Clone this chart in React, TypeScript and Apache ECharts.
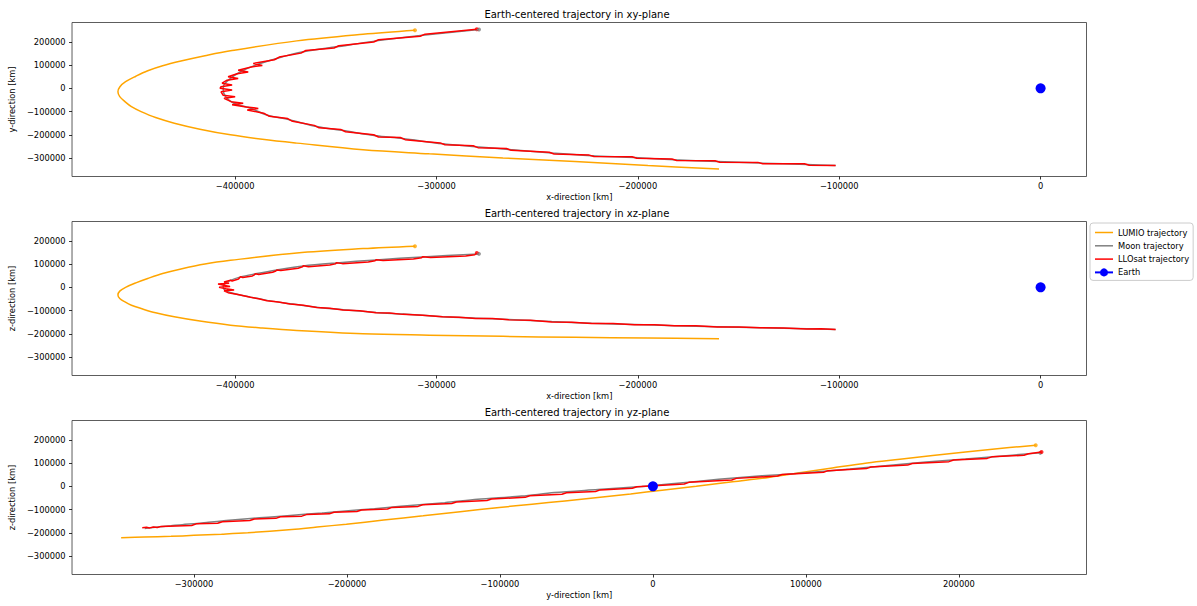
import React, { useEffect, useRef } from "react";
import * as echarts from "echarts";

// ---------------- data (km) ----------------
const lumioX = [-159700, -195000, -231300, -267000, -303600, -336500, -369400, -386500, -402300, -417500, -430200, -439500, -446700, -451500, -454700, -457300, -458200, -457300, -454400, -449300, -443400, -436000, -426900, -415000, -402300, -369400, -336500, -310700];
const lumioY = [-347600, -332500, -315000, -300000, -282000, -264800, -236000, -219500, -200400, -176000, -150200, -126000, -100400, -79000, -57500, -36000, -14600, 6000, 28300, 52000, 75500, 97000, 117200, 140000, 161400, 204300, 233000, 250200];
const lumioZ = [-221500, -218700, -215500, -211200, -206000, -200000, -186000, -175300, -163000, -145500, -127000, -109600, -91200, -77100, -63000, -48000, -33000, -16500, 0, 19300, 38000, 59100, 78900, 100400, 116200, 148000, 166700, 177100];

const moonX = [-101800, -116100, -139200, -160500, -181900, -201700, -223000, -242800, -264100, -280600, -297000, -316800, -330000, -346400, -359500, -372700, -384200, -392400, -400600, -404700, -405900, -405600, -402300, -397300, -389900, -379300, -366100, -349700, -330000, -306900, -278900];
const moonY = [-332200, -327900, -321900, -315000, -307700, -297900, -290600, -279000, -263000, -251500, -239000, -216300, -204700, -182000, -164800, -136100, -114600, -85800, -64400, -36000, -7300, 14200, 42900, 71200, 100000, 128800, 157100, 178500, 204300, 228800, 253200];
const moonZ = [-181500, -178600, -174000, -169700, -165000, -160000, -155000, -147500, -138700, -132800, -126300, -115000, -108000, -96300, -85700, -70300, -56200, -42200, -27000, -14000, -1000, 12000, 30000, 45000, 58000, 74500, 92000, 105000, 118000, 131000, 144000];

const llosatXY = [
  [-101800, -332200],
  [-114900, -330900], [-117300, -324900],
  [-138000, -324900], [-140400, -318900],
  [-159300, -318000], [-161700, -312000],
  [-180700, -310700], [-183100, -304700],
  [-200500, -300900], [-202900, -294900],
  [-221800, -293600], [-224200, -287600],
  [-241600, -282500], [-244000, -275500],
  [-262900, -267000], [-265300, -259000],
  [-279400, -255500], [-281800, -247500],
  [-295800, -243000], [-298200, -235000],
  [-315600, -221000], [-318000, -211600],
  [-328800, -209400], [-331200, -200000],
  [-345200, -187000], [-347600, -177000],
  [-358300, -170000], [-360700, -159600],
  [-371500, -142000], [-373900, -130200],
  [-383000, -120500], [-385400, -108700],
  [-394000, -93000], [-388500, -86500], [-394500, -80000],
  [-401500, -71000], [-396000, -64000], [-402000, -57500],
  [-405500, -43000], [-400000, -36500], [-406000, -29500],
  [-407000, -15000], [-401500, -7500], [-407500, 0],
  [-407000, 7000], [-401500, 14500], [-406500, 22000],
  [-404000, 35000], [-398500, 42500], [-403500, 50000],
  [-399000, 63000], [-393500, 70000], [-398500, 78000],
  [-392000, 92000], [-386500, 98500], [-391000, 107000],
  [-380500, 123000], [-378100, 134600],
  [-367300, 151500], [-364900, 162700],
  [-350900, 173500], [-348500, 183500],
  [-331200, 199300], [-328800, 209300],
  [-308100, 224300], [-305700, 233300],
  [-280000, 254000],
];

const llosatXZ = [
  [-101800, -181500], [-109000, -178500], [-116100, -180000], [-127600, -175000],
  [-139200, -174500], [-149800, -170500], [-160500, -171000], [-171200, -166000],
  [-181900, -165500], [-191800, -161000], [-201700, -161500], [-212300, -156000],
  [-223000, -155500], [-232900, -150000], [-242800, -149000], [-253400, -142000],
  [-264100, -139500], [-272300, -134500], [-280600, -134500], [-288800, -128500],
  [-297000, -127000], [-306900, -120000], [-316800, -116500], [-323400, -110500],
  [-330000, -109000], [-338200, -101000], [-346400, -98000], [-353000, -90000],
  [-359500, -87000], [-366100, -77500], [-372700, -72000], [-378500, -63000],
  [-384200, -58000], [-388300, -49000], [-392400, -43000],
  [-398000, -32000], [-403500, -23000], [-405500, -15000], [-400500, -11500],
  [-404500, -6000], [-408000, 0], [-402500, 3000], [-405500, 8500],
  [-408500, 14000], [-403000, 17000], [-405500, 23000], [-402300, 30500],
  [-401500, 27000], [-398300, 35500], [-397800, 41000], [-397300, 45500],
  [-396200, 42000], [-391400, 49000], [-390400, 54000], [-389900, 58500],
  [-388300, 55500], [-381400, 64700], [-379800, 70500], [-379300, 75000],
  [-377300, 72100], [-368700, 82000], [-366600, 88000], [-366100, 92500],
  [-363600, 88900], [-353000, 95900], [-350200, 101000], [-349700, 105500],
  [-346700, 102000], [-333900, 108900], [-330500, 114000], [-330000, 118500],
  [-326500, 115000], [-311500, 121900], [-307400, 127000], [-306900, 131500],
  [-302900, 128300], [-285500, 134500], [-281000, 140000], [-280000, 148000],
];

const llosatYZ = [
  [-333800, -178500],
  [-331000, -176500], [-329000, -179000], [-326500, -175000], [-324000, -177000], [-321500, -172500],
  [-301500, -169000], [-298500, -161700],
  [-284500, -159000], [-281500, -152300],
  [-263500, -147300], [-260500, -140600],
  [-246500, -137900], [-243500, -131200],
  [-229500, -128500], [-226500, -121800],
  [-211500, -118500], [-208500, -111800],
  [-193500, -108500], [-190500, -101800],
  [-173500, -97400], [-170500, -90700],
  [-153500, -86400], [-150500, -79700],
  [-131500, -74200], [-128500, -67500],
  [-108500, -61400], [-105500, -54700],
  [-83500, -47600], [-80500, -40900],
  [-59500, -34300], [-56500, -27600],
  [-37500, -22100], [-34500, -15400],
  [-13500, -8600], [-10500, -1900],
  [20500, 10300], [23500, 17000],
  [51500, 27500], [54500, 34200],
  [81500, 44100], [84500, 50800],
  [111500, 60800], [114500, 67500],
  [139500, 76300], [142500, 83000],
  [166500, 91300], [169500, 98000],
  [193500, 106300], [196500, 113000],
  [218500, 120200], [221500, 126900],
  [242500, 133500], [245500, 140200],
  [254000, 148000],
];

const earthPos = [0, 0];

const xRange = [-481000, 22800];
const sharedRange = [-379700, 283400];
const ticksX = [-400000, -300000, -200000, -100000, 0];
const ticksShared = [-300000, -200000, -100000, 0, 100000, 200000];

const titles = [
  "Earth-centered trajectory in xy-plane",
  "Earth-centered trajectory in xz-plane",
  "Earth-centered trajectory in yz-plane",
];
const xNames = ["x-direction [km]", "x-direction [km]", "y-direction [km]"];
const yNames = ["y-direction [km]", "z-direction [km]", "z-direction [km]"];
const legendNames = ["LUMIO trajectory", "Moon trajectory", "LLOsat trajectory", "Earth"];

// ---------------- layout / style ----------------
const FONT = "DejaVu Sans";
const GRID_LEFT = 67.5;
const GRID_WIDTH = 1019;
const GRID_TOPS = [22.5, 221.5, 420.5];
const GRID_HEIGHT = 154;
const C_LUMIO = "#FFA500";
const C_MOON = "#808080";
const C_LLO = "#FF0000";
const C_EARTH = "#0000FF";
const LINE_ICON = "path://M0,0H18V1.5H0Z";

const pairs = (a: number[], b: number[]) => a.map((v, i) => [v, b[i]]);
const fmt = (v: number) => (v < 0 ? "\u2212" + Math.abs(v) : String(v));

export default function App() {
  const ref = useRef<HTMLDivElement>(null);

  useEffect(() => {
    document.body.style.margin = "0";
    const chart = echarts.init(ref.current as HTMLDivElement, null, { renderer: "svg" });

    const panels = [
      { lumio: pairs(lumioX, lumioY), moon: pairs(moonX, moonY), llo: llosatXY, xr: xRange, xt: ticksX },
      { lumio: pairs(lumioX, lumioZ), moon: pairs(moonX, moonZ), llo: llosatXZ, xr: xRange, xt: ticksX },
      { lumio: pairs(lumioY, lumioZ), moon: pairs(moonY, moonZ), llo: llosatYZ, xr: sharedRange, xt: ticksShared },
    ];

    const labelStyle = { fontSize: 8.3, color: "#000", fontFamily: FONT };
    const tickStyle = { length: 3, lineStyle: { color: "#000", width: 0.8 } };

    const series: any[] = [];
    panels.forEach((p, i) => {
      const ax = { xAxisIndex: i, yAxisIndex: i, silent: true };
      series.push(
        { ...ax, type: "line", name: legendNames[0], data: p.lumio, symbol: "none", smooth: 0.35, lineStyle: { color: C_LUMIO, width: 1.5 }, itemStyle: { color: C_LUMIO } },
        { ...ax, type: "scatter", data: [p.lumio[p.lumio.length - 1]], symbolSize: 4, itemStyle: { color: C_LUMIO } },
        { ...ax, type: "line", name: legendNames[1], data: p.moon, symbol: "none", smooth: 0.3, lineStyle: { color: C_MOON, width: 1.5 }, itemStyle: { color: C_MOON } },
        { ...ax, type: "scatter", data: [p.moon[p.moon.length - 1]], symbolSize: 4, itemStyle: { color: C_MOON } },
        { ...ax, type: "line", name: legendNames[2], data: p.llo, symbol: "none", lineStyle: { color: C_LLO, width: 1.5 }, itemStyle: { color: C_LLO } },
        { ...ax, type: "scatter", data: [p.llo[p.llo.length - 1]], symbolSize: 4, itemStyle: { color: C_LLO } },
        { ...ax, type: "line", name: legendNames[3], data: [earthPos], symbol: "circle", symbolSize: 10, showSymbol: true, lineStyle: { color: C_EARTH, width: 1.5 }, itemStyle: { color: C_EARTH } }
      );
    });

    chart.setOption({
      animation: false,
      backgroundColor: "#fff",
      title: titles.map((t, i) => ({
        text: t,
        left: GRID_LEFT + GRID_WIDTH / 2,
        top: GRID_TOPS[i] - 13.3,
        textAlign: "center",
        padding: 0,
        textStyle: { fontSize: 10, fontWeight: "normal", color: "#000", fontFamily: FONT },
      })),
      legend: {
        data: [
          { name: legendNames[0], icon: LINE_ICON },
          { name: legendNames[1], icon: LINE_ICON },
          { name: legendNames[2], icon: LINE_ICON },
          { name: legendNames[3] },
        ],
        orient: "vertical",
        left: 1090,
        top: 223,
        itemWidth: 18,
        itemHeight: 10,
        itemGap: 5.3,
        padding: [5.5, 4, 4, 4],
        borderColor: "#cccccc",
        borderWidth: 1,
        borderRadius: 3,
        backgroundColor: "#ffffff",
        textStyle: { fontSize: 8.3, color: "#000", fontFamily: FONT },
      },
      grid: GRID_TOPS.map((t) => ({
        left: GRID_LEFT,
        top: t,
        width: GRID_WIDTH,
        height: GRID_HEIGHT,
        show: true,
        borderColor: "#333",
        borderWidth: 0.8,
        backgroundColor: "transparent",
      })),
      xAxis: panels.map((p, i) => ({
        type: "value",
        gridIndex: i,
        position: "bottom",
        min: p.xr[0],
        max: p.xr[1],
        name: xNames[i],
        nameLocation: "middle",
        nameGap: 16.5,
        nameTextStyle: labelStyle,
        axisLine: { show: false, onZero: false },
        splitLine: { show: false },
        axisTick: { ...tickStyle, customValues: p.xt },
        axisLabel: { ...labelStyle, margin: 5, customValues: p.xt, formatter: fmt },
      })),
      yAxis: panels.map((p, i) => ({
        type: "value",
        gridIndex: i,
        position: "left",
        min: sharedRange[0],
        max: sharedRange[1],
        name: yNames[i],
        nameLocation: "middle",
        nameRotate: 90,
        nameGap: 49,
        nameTextStyle: labelStyle,
        axisLine: { show: false, onZero: false },
        splitLine: { show: false },
        axisTick: { ...tickStyle, customValues: ticksShared },
        axisLabel: { ...labelStyle, margin: 6.5, customValues: ticksShared, formatter: fmt },
      })),
      series,
    });

    return () => chart.dispose();
  }, []);

  return <div ref={ref} style={{ position: "absolute", left: 0, top: 0, width: 1197, height: 606 }} />;
}
